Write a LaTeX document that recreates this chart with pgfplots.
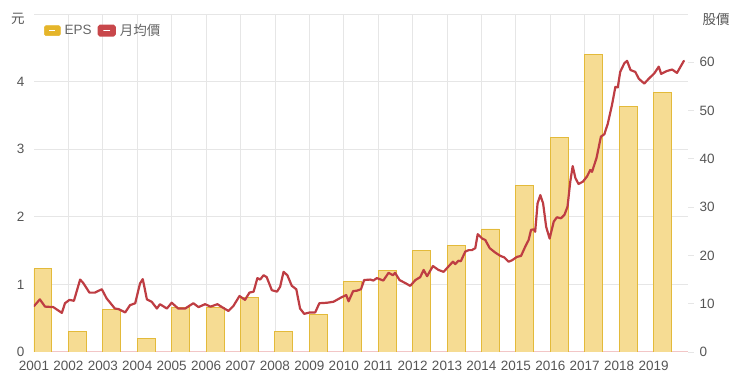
\documentclass[border=0pt]{standalone}
\usepackage{pgfplots}
\pgfplotsset{compat=1.18}
\usepackage{fontspec}
\setmainfont{Liberation Sans}
\newfontfamily\cjk{Noto Sans CJK TC}
\definecolor{barfill}{HTML}{F6DC93}
\definecolor{baredge}{HTML}{E3BA3A}
\definecolor{linered}{HTML}{BE3D43}
\definecolor{swyellow}{HTML}{E5B52A}
\definecolor{swred}{HTML}{C8474B}
\definecolor{gridc}{HTML}{E6E6E6}
\definecolor{tickc}{HTML}{555555}
\definecolor{legc}{HTML}{666666}
\definecolor{axisred}{HTML}{F2C6C6}
\pgfplotstableread{
year eps
2001 1.23
2002 0.31
2003 0.63
2004 0.20
2005 0.66
2006 0.66
2007 0.81
2008 0.31
2009 0.55
2010 1.05
2011 1.21
2012 1.50
2013 1.58
2014 1.82
2015 2.47
2016 3.17
2017 4.40
2018 3.63
2019 3.84
}\epstable
\pgfplotstableread{
t price
2001.00 9.5
2001.17 10.9
2001.32 9.4
2001.56 9.3
2001.81 8.1
2001.90 10.1
2002.03 10.8
2002.16 10.6
2002.34 15.0
2002.43 14.3
2002.61 12.3
2002.77 12.3
2002.97 13.0
2003.11 11.1
2003.35 9.0
2003.45 8.9
2003.65 8.2
2003.79 9.7
2003.94 10.1
2004.08 14.2
2004.16 15.1
2004.28 10.9
2004.42 10.4
2004.57 9.0
2004.66 9.9
2004.86 9.0
2005.00 10.2
2005.19 9.0
2005.39 9.0
2005.63 10.1
2005.78 9.3
2005.97 9.9
2006.13 9.4
2006.33 9.9
2006.46 9.3
2006.65 8.5
2006.79 9.5
2006.97 11.6
2007.13 10.8
2007.26 12.3
2007.38 12.5
2007.49 15.3
2007.57 15.0
2007.67 15.9
2007.76 15.5
2007.91 12.8
2008.06 12.5
2008.15 13.5
2008.25 16.6
2008.36 15.9
2008.49 13.7
2008.62 13.0
2008.73 9.0
2008.85 7.9
2009.02 8.2
2009.17 8.2
2009.29 10.1
2009.51 10.2
2009.70 10.4
2009.90 11.2
2010.07 11.8
2010.14 10.5
2010.27 12.6
2010.38 12.7
2010.50 13.0
2010.59 14.9
2010.77 15.0
2010.86 14.8
2010.96 15.3
2011.15 14.8
2011.30 16.4
2011.43 15.9
2011.49 16.4
2011.62 14.9
2011.78 14.3
2011.93 13.7
2012.08 14.9
2012.22 15.5
2012.32 17.0
2012.42 15.7
2012.59 17.8
2012.75 17.0
2012.90 16.6
2013.04 17.7
2013.17 18.7
2013.24 18.2
2013.33 18.9
2013.40 18.8
2013.53 20.8
2013.63 21.1
2013.72 21.1
2013.82 21.5
2013.89 24.4
2014.02 23.5
2014.11 23.2
2014.24 21.5
2014.40 20.6
2014.55 19.9
2014.66 19.6
2014.79 18.7
2014.89 19.0
2015.03 19.7
2015.15 19.9
2015.27 21.8
2015.37 23.2
2015.44 25.3
2015.52 25.4
2015.56 24.9
2015.63 30.8
2015.71 32.5
2015.79 30.8
2015.88 25.9
2015.98 23.5
2016.10 27.0
2016.19 27.9
2016.31 27.7
2016.41 28.4
2016.50 30.1
2016.58 35.3
2016.65 38.5
2016.73 36.0
2016.82 34.8
2016.95 35.3
2017.07 36.4
2017.16 37.7
2017.21 37.3
2017.34 40.1
2017.47 44.6
2017.57 45.1
2017.67 47.3
2017.79 51.1
2017.89 54.9
2017.96 54.8
2018.03 58.0
2018.15 59.8
2018.23 60.3
2018.33 58.4
2018.47 58.0
2018.57 56.6
2018.73 55.6
2018.86 56.6
2019.02 57.7
2019.15 59.1
2019.22 57.6
2019.39 58.2
2019.54 58.5
2019.68 57.8
2019.88 60.3
}\pricetable
\begin{document}
\begin{tikzpicture}[x=1pt,y=1pt]
\path[use as bounding box] (0,0) rectangle (740,388);
\begin{axis}[
  at={(34pt,36pt)}, anchor=south west,
  scale only axis, width=654pt, height=338pt,
  xmin=2001, xmax=2020, ymin=0, ymax=5,
  axis line style={draw=none},
  /pgf/number format/assume math mode=true,
  tick label style={font=\fontsize{13.5}{15}\selectfont, text=tickc},
  xtick={2001,...,2019},
  x tick label style={yshift=-6pt},
  xticklabel={\pgfmathprintnumber[1000 sep={},fixed]{\tick}},
  ytick={1,2,3,4,5},
  yticklabels={1,2,3,4,{}},
  ymajorgrids, grid style={gridc, line width=0.8pt},
  major tick length=0pt,
  yticklabel style={xshift=-6pt},
  extra x ticks={2002,...,2019},
  extra x tick labels={},
  extra x tick style={grid=major, major tick length=0pt},
  extra y ticks={0},
  extra y tick labels={0},
  extra y tick style={grid=major, grid style={axisred, line width=1pt}},
]
\addplot[ybar, bar width=0.52, bar shift=0.26, fill=barfill, draw=baredge, line width=0.9pt] table[x=year, y=eps] {\epstable};
\end{axis}
\begin{axis}[
  at={(34pt,36pt)}, anchor=south west,
  scale only axis, width=654pt, height=338pt,
  xmin=2001, xmax=2020, ymin=0, ymax=70,
  axis x line=none,
  axis y line*=right,
  axis line style={draw=none},
  /pgf/number format/assume math mode=true,
  tick label style={font=\fontsize{13.5}{15}\selectfont, text=tickc},
  ytick={0,10,...,60},
  tick align=outside,
  major tick length=6pt,
  tick style={draw=gridc, line width=0.8pt},
  yticklabel style={xshift=2pt},
  legend columns=2,
  legend style={at={(rel axis cs:0,1)}, anchor=north west, xshift=7pt, yshift=-6pt,
    draw=none, fill=none, font=\fontsize{13.5}{15}\selectfont, text=legc,
    /tikz/every odd column/.append style={column sep=2pt},
    /tikz/every even column/.append style={column sep=4pt}},
]
\addlegendimage{legend image code/.code={\fill[swyellow, rounded corners=1.5pt] (0pt,-5pt) rectangle (16pt,5pt); \draw[white, line width=0.9pt] (5pt,0pt) -- (11pt,0pt);}}
\addlegendentry{EPS}
\addplot[linered, line width=2.2pt, line join=round, line cap=round,
  legend image code/.code={\fill[swred, rounded corners=1.5pt] (0pt,-5pt) rectangle (16pt,5pt); \draw[white, line width=0.9pt] (5pt,0pt) -- (11pt,0pt);}]
  table[x=t, y=price] {\pricetable};
\addlegendentry{\cjk 月均價}
\end{axis}
\node[font=\cjk\fontsize{13.5}{15}\selectfont, text=tickc] at (18,369) {元};
\node[font=\cjk\fontsize{13.5}{15}\selectfont, text=tickc] at (716,369) {股價};
\end{tikzpicture}
\end{document}
